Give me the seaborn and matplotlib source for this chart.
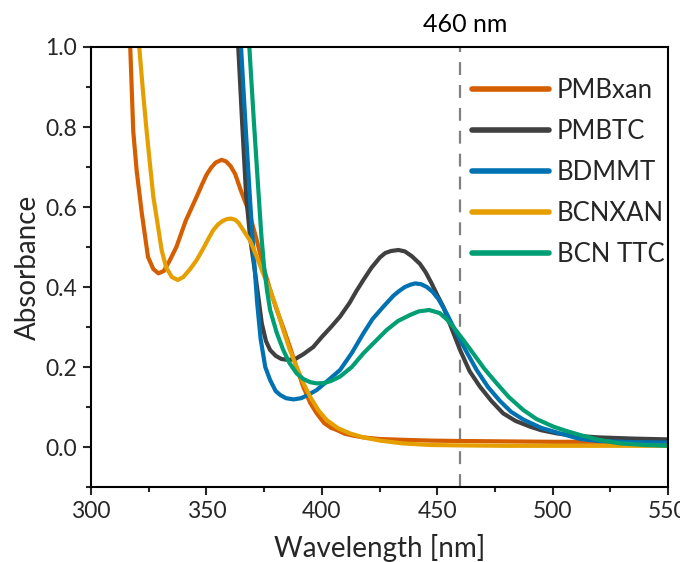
import numpy as np
import pandas as pd
import matplotlib
matplotlib.use("Agg")
import matplotlib.pyplot as plt
import seaborn as sns
from matplotlib.ticker import MultipleLocator, FormatStrFormatter

# ---- data ----
pmbxan_wl = [315.5, 317, 318.3, 319.8, 322, 324.7, 327, 329.2, 331.5, 334, 337, 341, 345.8, 348,
             350, 352, 354, 356.6, 358.5, 360.5, 362.5, 365, 368, 370, 371.8, 374.7, 377.5, 380.5,
             383.5, 386.2, 389, 392, 395, 397.8, 401, 404, 406.5, 410, 414, 418, 425, 435, 447,
             460, 480, 500, 525, 550]
pmbxan_a = [1.08, 1.0, 0.79, 0.69, 0.585, 0.475, 0.445, 0.434, 0.44, 0.465, 0.50, 0.565, 0.626, 0.655,
            0.68, 0.698, 0.711, 0.718, 0.714, 0.702, 0.682, 0.64, 0.595, 0.555, 0.5175, 0.45, 0.395,
            0.3425, 0.295, 0.25, 0.20, 0.15, 0.11, 0.084, 0.06, 0.048, 0.0425, 0.033, 0.028, 0.024,
            0.02, 0.018, 0.016, 0.015, 0.014, 0.013, 0.013, 0.012]

pmbtc_wl = [363, 363.8, 365.5, 367.2, 369, 371, 372.5, 374, 375.8, 377.6, 380, 382.5, 385.5, 388.5,
            392, 396.3, 400, 404, 407.9, 412, 415, 418, 421.5, 425.2, 427.5, 430, 433.2, 436, 439,
            442.5, 445, 447.5, 450, 452.6, 456, 459.9, 464, 468.5, 473.5, 478.6, 484, 490.2, 495,
            501.8, 510, 520, 535, 550]
pmbtc_a = [1.08, 1.0, 0.81, 0.63, 0.52, 0.44, 0.375, 0.309, 0.265, 0.2425, 0.228, 0.22, 0.2175, 0.22,
           0.232, 0.25, 0.275, 0.30, 0.326, 0.36, 0.39, 0.4175, 0.448, 0.474, 0.485, 0.49, 0.4925,
           0.489, 0.477, 0.458, 0.437, 0.41, 0.38, 0.351, 0.30, 0.2425, 0.19, 0.151, 0.115, 0.084,
           0.065, 0.051, 0.042, 0.034, 0.028, 0.024, 0.021, 0.019]

bdmmt_wl = [364, 365, 367, 369, 370.5, 372, 373.5, 375.5, 377.6, 380, 382, 384.5, 387.7, 391, 394,
            397.8, 402, 407.9, 413, 418, 422, 426.7, 431, 433.5, 436, 438.5, 440.5, 443, 445.5,
            448, 450.5, 454, 458.4, 462.5, 467.1, 472, 477.2, 482, 487.5, 495, 503.2, 511.9, 520,
            535, 550]
bdmmt_a = [1.08, 1.0, 0.80, 0.61, 0.48, 0.36, 0.27, 0.20, 0.1675, 0.14, 0.13, 0.122, 0.119, 0.122,
           0.13, 0.1425, 0.163, 0.1925, 0.235, 0.284, 0.32, 0.351, 0.378, 0.39, 0.4, 0.406, 0.409,
           0.407, 0.4, 0.388, 0.37, 0.335, 0.284, 0.24, 0.1925, 0.15, 0.115, 0.088, 0.068, 0.048,
           0.034, 0.02, 0.015, 0.012, 0.011]

bcnxan_wl = [319.5, 320.9, 322.5, 324.1, 325.5, 327, 328.8, 330.6, 332.5, 335, 337.6, 340, 343,
             345.8, 349, 351, 353, 355, 357, 359, 360.7, 362.5, 364, 366, 369, 371.8, 374.5, 377.6,
             380.5, 383.3, 386, 389.1, 392, 394.9, 398.5, 402.1, 407, 412.2, 418, 425.2, 435, 447,
             460, 480, 500, 525, 550]
bcnxan_a = [1.08, 1.0, 0.89, 0.79, 0.71, 0.626, 0.56, 0.4925, 0.45, 0.425, 0.4175, 0.425, 0.445,
            0.4675, 0.50, 0.522, 0.5425, 0.556, 0.565, 0.57, 0.571, 0.568, 0.56, 0.542, 0.515, 0.476,
            0.435, 0.3925, 0.345, 0.2925, 0.245, 0.20, 0.16, 0.126, 0.092, 0.0675, 0.047, 0.034,
            0.024, 0.016, 0.009, 0.005, 0.004, 0.003, 0.003, 0.003, 0.003]

bcnttc_wl = [367.8, 368.6, 370.5, 372.3, 373.8, 375, 376.3, 377.6, 380.5, 383.3, 386, 389.1, 392,
             395, 397.8, 401, 404, 407.9, 413, 418, 423, 428.1, 433, 438.2, 442, 446.5, 451, 454,
             457, 461, 465.6, 470.5, 475.8, 481, 487.3, 493, 500.3, 506, 511.9, 520, 529.2, 540, 550]
bcnttc_a = [1.08, 1.0, 0.82, 0.66, 0.53, 0.45, 0.39, 0.3425, 0.285, 0.2425, 0.21, 0.184, 0.17,
            0.162, 0.159, 0.16, 0.165, 0.176, 0.2, 0.234, 0.263, 0.2925, 0.315, 0.33, 0.339,
            0.3425, 0.335, 0.32, 0.30, 0.27, 0.234, 0.195, 0.159, 0.125, 0.0925, 0.07, 0.051,
            0.04, 0.03, 0.018, 0.009, 0.005, 0.003]

series_names = ["PMBxan", "PMBTC", "BDMMT", "BCNXAN", "BCN TTC"]
series_colors = ["#D55E00", "#404040", "#0072B2", "#E69F00", "#009E73"]
marker_wavelength = 460
marker_label = "460 nm"

frames = []
for name, wl, a in zip(series_names,
                       [pmbxan_wl, pmbtc_wl, bdmmt_wl, bcnxan_wl, bcnttc_wl],
                       [pmbxan_a, pmbtc_a, bdmmt_a, bcnxan_a, bcnttc_a]):
    frames.append(pd.DataFrame({"Wavelength": wl, "Absorbance": a, "Sample": name}))
df = pd.concat(frames, ignore_index=True)

sns.set_theme(style="ticks")
plt.rcParams["font.family"] = ["Lato", "DejaVu Sans"]

fig = plt.figure(figsize=(6.8, 5.62), dpi=100)
ax = fig.add_axes([91 / 680, 1 - 487 / 562, (668 - 91) / 680, (487 - 47) / 562])

sns.lineplot(data=df, x="Wavelength", y="Absorbance", hue="Sample", hue_order=series_names,
             palette=dict(zip(series_names, series_colors)), estimator=None, sort=False,
             linewidth=3.0, ax=ax)

ax.axvline(marker_wavelength, color="#808080", linestyle=(0, (5.8, 4.5)), linewidth=1.6, zorder=0.5)
ax.text(marker_wavelength + 2, 1.027, marker_label, transform=ax.transData,
        ha="center", va="bottom", fontsize=18, color="black", clip_on=False)

ax.set_xlim(300, 550)
ax.set_ylim(-0.1, 1.0)
ax.xaxis.set_major_locator(MultipleLocator(50))
ax.xaxis.set_minor_locator(MultipleLocator(25))
ax.yaxis.set_major_locator(MultipleLocator(0.2))
ax.yaxis.set_minor_locator(MultipleLocator(0.1))
ax.yaxis.set_major_formatter(FormatStrFormatter("%.1f"))
ax.tick_params(which="major", length=6, width=1.5, labelsize=16.5, direction="out", pad=4)
ax.tick_params(which="minor", length=3.5, width=1.5, direction="out")
ax.tick_params(top=False, right=False, which="both")
for sp in ax.spines.values():
    sp.set_linewidth(1.5)
    sp.set_color("black")

ax.set_xlabel("Wavelength [nm]", fontsize=20, labelpad=9)
ax.set_ylabel("Absorbance", fontsize=20, labelpad=3)

handles, labels = ax.get_legend_handles_labels()
leg = ax.legend(handles, labels, loc="upper left", bbox_to_anchor=(472 / 680, 1 - 78 / 562),
                bbox_transform=fig.transFigure, frameon=False, fontsize=18.5,
                handlelength=3.0, handletextpad=0.3, labelspacing=0.62, borderaxespad=0,
                borderpad=0)
for lh in leg.get_lines():
    lh.set_linewidth(4)

fig.savefig("out.png", dpi=100)
